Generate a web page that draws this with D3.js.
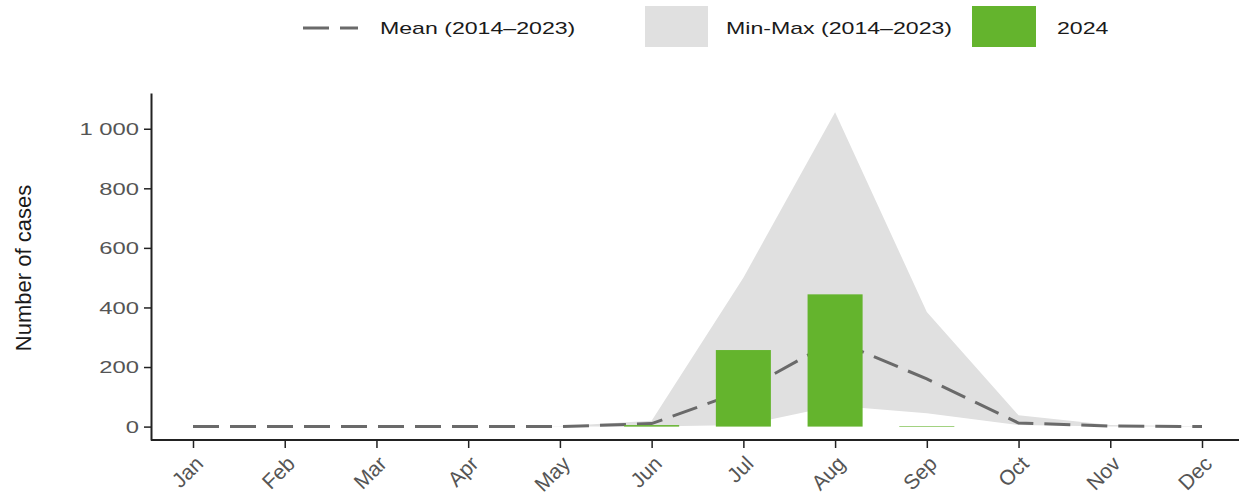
<!DOCTYPE html>
<html>
<head>
<meta charset="utf-8">
<script src="https://cdn.jsdelivr.net/npm/d3@7"></script>
<style>
  html, body { margin: 0; padding: 0; background: #fff; }
  svg { display: block; font-family: "Liberation Sans", Arial, Helvetica, sans-serif; }
</style>
</head>
<body>
<svg id="chart" width="1239" height="495"></svg>
<script>
// Monthly case counts
const months = ["Jan","Feb","Mar","Apr","May","Jun","Jul","Aug","Sep","Oct","Nov","Dec"];
const cases2024 = [0, 0, 0, 0, 0, 5, 257, 444, 2, 0, 0, 0];
const mean2014_2023 = [0, 0, 0, 0, 0, 10, 120, 290, 160, 12, 2, 0];
const min2014_2023 = [0, 0, 0, 0, 0, 0, 5, 70, 45, 5, 0, 0];
const max2014_2023 = [0, 0, 0, 0, 1, 20, 500, 1055, 385, 38, 5, 1];
const yTicks = [0, 200, 400, 600, 800, 1000];
const legendLabels = ["Mean (2014\u20132023)", "Min-Max (2014\u20132023)", "2024"];
const yTitle = "Number of cases";

const FONT = '"Liberation Sans", Arial, Helvetica, sans-serif';
const GREEN = "#64b42d";
const BAND = "#e0e0e0";
const MEAN = "#6a6a6a";
const AXIS = "#222";
const TICKTXT = "#555";

const svg = d3.select("#chart");

const x = d3.scalePoint().domain(months).range([193, 1202]);
const step = x.step();
const y = d3.scaleLinear().domain([-45, 1120]).range([440, 93]);

const rows = months.map((m, i) => ({
  m, v: cases2024[i], mean: mean2014_2023[i], lo: min2014_2023[i], hi: max2014_2023[i]
}));

// Min-max ribbon
svg.append("path")
  .datum(rows)
  .attr("fill", BAND)
  .attr("d", d3.area().x(d => x(d.m)).y0(d => y(d.lo)).y1(d => y(d.hi)));

// Mean line
svg.append("path")
  .datum(rows)
  .attr("fill", "none")
  .attr("stroke", MEAN)
  .attr("stroke-width", 3)
  .attr("stroke-dasharray", "26,11")
  .attr("d", d3.line().x(d => x(d.m)).y(d => y(d.mean)));

// 2024 bars
const barW = step * 0.6;
svg.append("g").selectAll("rect")
  .data(rows.filter(d => d.v > 0))
  .join("rect")
  .attr("x", d => x(d.m) - barW / 2)
  .attr("width", barW)
  .attr("y", d => y(d.v))
  .attr("height", d => y(0) - y(d.v))
  .attr("fill", GREEN);

// Axes
const fmt = d3.formatLocale({ decimal: ".", thousands: " ", grouping: [3], currency: ["", ""] }).format(",");

const yAxis = svg.append("g")
  .attr("transform", "translate(151,0)")
  .call(d3.axisLeft(y).tickValues(yTicks).tickFormat(fmt).tickSize(7).tickSizeOuter(0))
  .attr("font-family", FONT);
yAxis.select(".domain").attr("stroke", AXIS).attr("stroke-width", 2);
yAxis.selectAll(".tick line").attr("stroke", AXIS).attr("stroke-width", 1.5);
yAxis.selectAll(".tick text")
  .attr("fill", TICKTXT)
  .attr("font-size", 17)
  .attr("text-anchor", "end")
  .attr("x", null)
  .attr("dy", "0.34em")
  .attr("transform", "translate(-12,0) scale(1.4,1)");

const xAxis = svg.append("g")
  .attr("transform", "translate(0,440)")
  .call(d3.axisBottom(x).tickSize(8).tickSizeOuter(0))
  .attr("font-family", FONT);
xAxis.select(".domain").attr("stroke", AXIS).attr("stroke-width", 2)
  .attr("d", "M151,0H1239");
xAxis.selectAll(".tick line").attr("stroke", AXIS).attr("stroke-width", 1.5);
xAxis.selectAll(".tick text")
  .attr("fill", TICKTXT)
  .attr("font-size", 21)
  .attr("text-anchor", "end")
  .attr("y", null)
  .attr("dy", null)
  .attr("transform", "translate(11,25) rotate(-45)");

// Y axis title
svg.append("text")
  .attr("transform", "translate(31,268) rotate(-90)")
  .attr("text-anchor", "middle")
  .attr("font-size", 22)
  .attr("fill", "#1a1a1a")
  .text(yTitle);

// Legend
const lg = svg.append("g");
lg.append("line")
  .attr("x1", 303).attr("x2", 358).attr("y1", 28).attr("y2", 28)
  .attr("stroke", MEAN).attr("stroke-width", 3).attr("stroke-dasharray", "26,11");
lg.append("rect").attr("x", 645).attr("y", 6).attr("width", 63).attr("height", 41).attr("fill", BAND);
lg.append("rect").attr("x", 972).attr("y", 6).attr("width", 64).attr("height", 41).attr("fill", GREEN);
const legendX = [380, 726, 1057];
legendLabels.forEach((t, i) => {
  lg.append("text")
    .attr("transform", `translate(${legendX[i]},34) scale(1.36,1)`)
    .attr("font-size", 17)
    .attr("fill", "#1a1a1a")
    .text(t);
});
</script>
</body>
</html>
